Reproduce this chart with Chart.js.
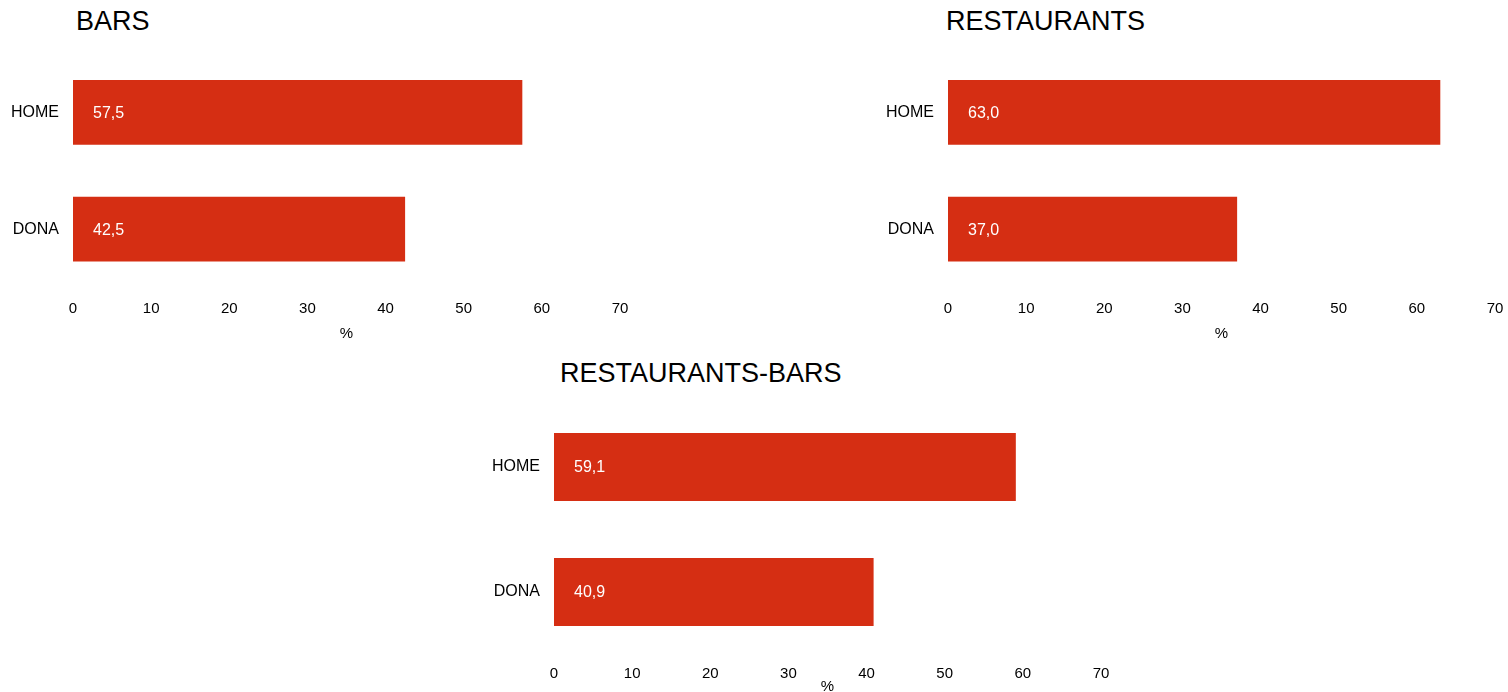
<!DOCTYPE html>
<html>
<head>
<meta charset="utf-8">
<script src="https://cdn.jsdelivr.net/npm/chart.js@4/dist/chart.umd.min.js"></script>
<style>
  html, body { margin: 0; padding: 0; background: #fff; overflow: hidden; }
  body { width: 1508px; height: 692px; position: relative; font-family: "Liberation Sans", Arial, sans-serif; }
  canvas { position: absolute; }
  .titol { position: absolute; font-size: 27px; line-height: 27px; color: #000; white-space: nowrap; }
</style>
</head>
<body>
<div class="titol" style="left:76px; top:8px;">BARS</div>
<div class="titol" style="left:946px; top:8px;">RESTAURANTS</div>
<div class="titol" style="left:560px; top:360px;">RESTAURANTS-BARS</div>

<canvas id="chartBars" width="700" height="360" style="left:0px; top:0px;"></canvas>
<canvas id="chartRest" width="700" height="360" style="left:875px; top:0px;"></canvas>
<canvas id="chartRestBars" width="700" height="350" style="left:481px; top:350px;"></canvas>

<script>
// Dades
const categories = ['HOME', 'DONA'];
const barsValues = [57.5, 42.5];
const restaurantsValues = [63.0, 37.0];
const restaurantsBarsValues = [59.1, 40.9];
const xMin = 0;
const xMax = 70;
const xStep = 10;

const barColor = '#D52E13';
const fontFamily = '"Liberation Sans", Arial, sans-serif';

// Etiquetes de valor dins de la barra
const valueLabels = {
    id: 'valueLabels',
    afterDatasetsDraw(chart) {
        const ctx = chart.ctx;
        ctx.save();
        ctx.fillStyle = '#ffffff';
        ctx.font = '16px ' + fontFamily;
        ctx.textAlign = 'left';
        ctx.textBaseline = 'middle';
        chart.getDatasetMeta(0).data.forEach((bar, i) => {
            const v = chart.data.datasets[0].data[i];
            ctx.fillText(v.toFixed(1).replace('.', ','), bar.base + 20, bar.y + 1);
        });
        ctx.restore();
    }
};

function createChart(id, values, layout) {
    return new Chart(document.getElementById(id), {
        type: 'bar',
        data: {
            labels: categories,
            datasets: [{
                data: values,
                backgroundColor: barColor,
                borderWidth: 0,
                categoryPercentage: 1,
                barPercentage: layout.barPct,
            }]
        },
        options: {
            indexAxis: 'y',
            responsive: false,
            animation: false,
            devicePixelRatio: 1,
            layout: {
                padding: { top: layout.top, right: layout.right, bottom: layout.bottom, left: 0 }
            },
            plugins: {
                legend: { display: false },
                title: { display: false },
                tooltip: { enabled: false }
            },
            scales: {
                x: {
                    min: xMin,
                    max: xMax,
                    grid: { display: false, drawTicks: false },
                    border: { display: false },
                    ticks: {
                        stepSize: xStep,
                        padding: layout.tickPad,
                        color: '#000',
                        font: { family: fontFamily, size: 15 }
                    },
                    title: {
                        display: true,
                        text: '%',
                        color: '#000',
                        padding: 0,
                        font: { family: fontFamily, size: 15 }
                    },
                    afterFit: s => { s.height = layout.xHeight; }
                },
                y: {
                    grid: { display: false, drawTicks: false },
                    border: { display: false },
                    ticks: {
                        padding: 14,
                        color: '#000',
                        font: { family: fontFamily, size: 16 }
                    },
                    afterFit: s => { s.width = 73; }
                }
            }
        },
        plugins: [valueLabels]
    });
}

createChart('chartBars', barsValues, { top: 54, right: 80, bottom: 17.5, xHeight: 55, tickPad: 12.5, barPct: 0.556 });
createChart('chartRest', restaurantsValues, { top: 54, right: 80, bottom: 17.5, xHeight: 55, tickPad: 12.5, barPct: 0.556 });
createChart('chartRestBars', restaurantsBarsValues, { top: 54.5, right: 80, bottom: 4, xHeight: 41.5, tickPad: 10.5, barPct: 0.544 });
</script>
</body>
</html>
